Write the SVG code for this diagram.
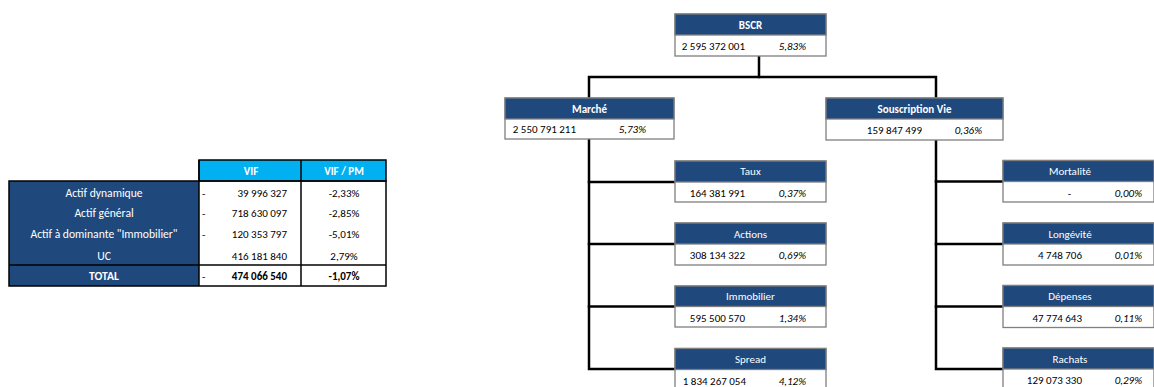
<svg xmlns="http://www.w3.org/2000/svg" width="1154" height="387" viewBox="0 0 1154 387">
  <style>
    text { font-family: Carlito, Calibri, Lato, "Liberation Sans", sans-serif; font-size: 11px; font-weight: normal; fill: #000; }
    .box { fill: #fff; stroke: #7f7f7f; stroke-width: 1.3; }
    .hd { fill: #1f497d; stroke: #7f7f7f; stroke-width: 1.3; }
    .ht { fill: #fff; text-anchor: middle; }
    .b { font-weight: bold; }
    .v { text-anchor: end; }
    .p { text-anchor: end; font-style: italic; }
    .conn { stroke: #000; stroke-width: 2.5; fill: none; stroke-linecap: square; }
    .grid { stroke: #000; stroke-width: 1.5; fill: none; }
    .lbl { fill: #fff; text-anchor: middle; font-size: 11.6px; }
    .mid { text-anchor: middle; }
  </style>

  <!-- VIF summary table -->
  <g id="table-vif">
    <rect x="199" y="160" width="102" height="21" fill="#00b0f0"/>
    <rect x="301" y="160" width="85" height="21" fill="#00b0f0"/>
    <rect x="9" y="181" width="190" height="105" fill="#1f497d"/>
    <rect x="199" y="181" width="187" height="105" fill="#fff"/>
    <rect class="grid" x="199" y="160" width="187" height="21"/>
    <rect class="grid" x="9" y="181" width="377" height="105"/>
    <line class="grid" x1="199" y1="160" x2="199" y2="286"/>
    <line class="grid" x1="301" y1="160" x2="301" y2="286"/>
    <line class="grid" x1="9" y1="265" x2="386" y2="265" stroke-width="2"/>
    <text class="ht b" x="251" y="174.5">VIF</text>
    <text class="ht b" x="344" y="174.5">VIF / PM</text>

    <text class="lbl" x="104" y="197">Actif dynamique</text>
    <text x="202" y="197">-</text>
    <text class="v" x="287" y="197">39 996 327</text>
    <text class="mid" x="344" y="197">-2,33%</text>

    <text class="lbl" x="104" y="217">Actif général</text>
    <text x="202" y="217">-</text>
    <text class="v" x="287" y="217">718 630 097</text>
    <text class="mid" x="344" y="217">-2,85%</text>

    <text class="lbl" x="104" y="238">Actif à dominante "Immobilier"</text>
    <text x="202" y="238">-</text>
    <text class="v" x="287" y="238">120 353 797</text>
    <text class="mid" x="344" y="238">-5,01%</text>

    <text class="lbl" x="104" y="259.5">UC</text>
    <text class="v" x="287" y="259.5">416 181 840</text>
    <text class="mid" x="344" y="259.5">2,79%</text>

    <text class="lbl b" x="104" y="280">TOTAL</text>
    <text x="202" y="280">-</text>
    <text class="v b" x="287" y="280">474 066 540</text>
    <text class="mid b" x="344" y="280">-1,07%</text>
  </g>

  <!-- tree connectors -->
  <g id="connectors">
    <polyline class="conn" points="759,56 759,77"/>
    <polyline class="conn" points="589,98 589,77 936,77 936,98"/>
    <polyline class="conn" points="589,139 589,369 675,369"/>
    <line class="conn" x1="589" y1="182" x2="675" y2="182"/>
    <line class="conn" x1="589" y1="244" x2="675" y2="244"/>
    <line class="conn" x1="589" y1="306.5" x2="675" y2="306.5"/>
    <polyline class="conn" points="936,140 936,369 1003,369"/>
    <line class="conn" x1="936" y1="181.5" x2="1003" y2="181.5"/>
    <line class="conn" x1="936" y1="244" x2="1003" y2="244"/>
    <line class="conn" x1="936" y1="306.5" x2="1003" y2="306.5"/>
  </g>

  <!-- BSCR -->
  <g id="node-bscr">
    <rect class="box" x="675" y="14" width="151" height="42"/>
    <rect class="hd" x="675" y="14" width="151" height="21"/>
    <text class="ht b" x="750.5" y="28.5">BSCR</text>
    <text class="v" x="745" y="50">2 595 372 001</text>
    <text class="p" x="806" y="50">5,83%</text>
  </g>

  <!-- Marché -->
  <g id="node-marche">
    <rect class="box" x="505" y="98" width="169" height="41"/>
    <rect class="hd" x="505" y="98" width="169" height="21"/>
    <text class="ht b" x="589.5" y="112.5">Marché</text>
    <text class="v" x="576" y="133">2 550 791 211</text>
    <text class="p" x="646" y="133">5,73%</text>
  </g>

  <!-- Souscription Vie -->
  <g id="node-souscription-vie">
    <rect class="box" x="826" y="98" width="177" height="42"/>
    <rect class="hd" x="826" y="98" width="177" height="21"/>
    <text class="ht b" x="914.5" y="112.5">Souscription Vie</text>
    <text class="v" x="922" y="133.5">159 847 499</text>
    <text class="p" x="982" y="133.5">0,36%</text>
  </g>

  <!-- Marché sub-modules -->
  <g id="node-taux">
    <rect class="box" x="675" y="161" width="151" height="41"/>
    <rect class="hd" x="675" y="161" width="151" height="21"/>
    <text class="ht" x="750.5" y="175">Taux</text>
    <text class="v" x="745" y="196.5">164 381 991</text>
    <text class="p" x="806" y="196.5">0,37%</text>
  </g>
  <g id="node-actions">
    <rect class="box" x="675" y="223" width="151" height="42"/>
    <rect class="hd" x="675" y="223" width="151" height="21"/>
    <text class="ht" x="750.5" y="237.5">Actions</text>
    <text class="v" x="745" y="259">308 134 322</text>
    <text class="p" x="806" y="259">0,69%</text>
  </g>
  <g id="node-immobilier">
    <rect class="box" x="675" y="286" width="151" height="41"/>
    <rect class="hd" x="675" y="286" width="151" height="20.5"/>
    <text class="ht" x="750.5" y="300">Immobilier</text>
    <text class="v" x="745" y="321.5">595 500 570</text>
    <text class="p" x="806" y="321.5">1,34%</text>
  </g>
  <g id="node-spread">
    <rect class="box" x="675" y="348.5" width="151" height="42"/>
    <rect class="hd" x="675" y="348.5" width="151" height="21"/>
    <text class="ht" x="750.5" y="363">Spread</text>
    <text class="v" x="746" y="384.5">1 834 267 054</text>
    <text class="p" x="806" y="384.5">4,12%</text>
  </g>

  <!-- Souscription Vie sub-modules -->
  <g id="node-mortalite">
    <rect class="box" x="1003" y="160.5" width="151" height="41.5"/>
    <rect class="hd" x="1003" y="160.5" width="151" height="21"/>
    <text class="ht" x="1070" y="175">Mortalité</text>
    <text class="v" x="1071" y="196.5">-</text>
    <text class="p" x="1142" y="196.5">0,00%</text>
  </g>
  <g id="node-longevite">
    <rect class="box" x="1003" y="223" width="151" height="42"/>
    <rect class="hd" x="1003" y="223" width="151" height="21"/>
    <text class="ht" x="1070" y="237.5">Longévité</text>
    <text class="v" x="1082" y="259">4 748 706</text>
    <text class="p" x="1142" y="259">0,01%</text>
  </g>
  <g id="node-depenses">
    <rect class="box" x="1003" y="285.5" width="151" height="42"/>
    <rect class="hd" x="1003" y="285.5" width="151" height="21"/>
    <text class="ht" x="1070" y="300">Dépenses</text>
    <text class="v" x="1082" y="321.5">47 774 643</text>
    <text class="p" x="1142" y="321.5">0,11%</text>
  </g>
  <g id="node-rachats">
    <rect class="box" x="1003" y="348" width="151" height="42"/>
    <rect class="hd" x="1003" y="348" width="151" height="21"/>
    <text class="ht" x="1070" y="362.5">Rachats</text>
    <text class="v" x="1082" y="384">129 073 330</text>
    <text class="p" x="1142" y="384">0,29%</text>
  </g>
</svg>
